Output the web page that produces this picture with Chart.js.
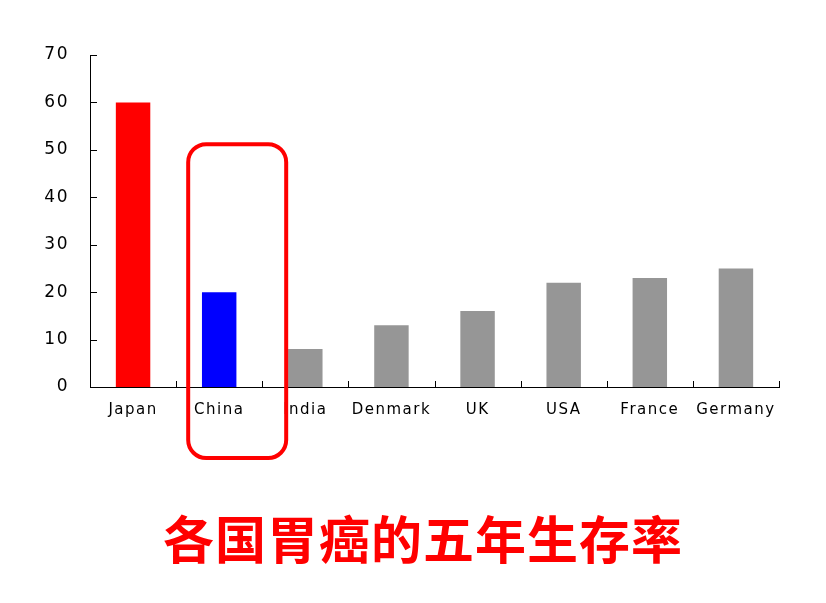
<!DOCTYPE html>
<html>
<head>
<meta charset="utf-8">
<script src="https://cdn.jsdelivr.net/npm/chart.js@4"></script>
<style>
  html, body { margin: 0; padding: 0; background: #fff; }
  #wrap { width: 826px; height: 603px; }
</style>
</head>
<body>
<div id="wrap"><canvas id="chart"></canvas></div>
<script>
// Data
const countries = ["Japan", "China", "India", "Denmark", "UK", "USA", "France", "Germany"];
const survival = [60, 20, 8, 13, 16, 22, 23, 25];
const barColors = ["#ff0000", "#0000ff", "#969696", "#969696", "#969696", "#969696", "#969696", "#969696"];
const yTicks = [0, 10, 20, 30, 40, 50, 60, 70];
const chartTitle = "各国胃癌的五年生存率";

// wider letters like the slide
function setSpacing(chart) {
    chart.ctx.letterSpacing = "1.5px";
}

// inside tick marks, the red box round China and the big title
const extras = {
    id: "extras",
    beforeLayout: setSpacing,
    beforeDraw: setSpacing,
    afterDraw(chart) {
        const ctx = chart.ctx;
        const x = chart.scales.x;
        const y = chart.scales.y;
        const area = chart.chartArea;

        ctx.save();
        ctx.strokeStyle = "#000";
        ctx.lineWidth = 1;
        ctx.beginPath();
        yTicks.forEach(v => {
            const py = Math.round(y.getPixelForValue(v)) + 0.5;
            ctx.moveTo(area.left, py);
            ctx.lineTo(area.left + 7, py);
        });
        const step = (area.right - area.left) / countries.length;
        for (let i = 1; i <= countries.length; i++) {
            const px = Math.round(area.left + step * i) + 0.5;
            ctx.moveTo(px, area.bottom);
            ctx.lineTo(px, area.bottom - 6);
        }
        ctx.stroke();

        // red rounded box
        const cx = x.getPixelForValue(1);
        const top = y.getPixelForValue(51.2);
        ctx.strokeStyle = "#ff0000";
        ctx.lineWidth = 4;
        ctx.beginPath();
        ctx.roundRect(cx - 31, top, 98, area.bottom + 71 - top, 18);
        ctx.stroke();

        // title
        ctx.letterSpacing = "1px";
        ctx.fillStyle = "#ff0000";
        ctx.font = "bold 51px 'Noto Sans CJK SC'";
        ctx.textAlign = "center";
        ctx.textBaseline = "middle";
        ctx.fillText(chartTitle, 423, 540);
        ctx.restore();
    }
};

const ctx = document.getElementById("chart").getContext("2d");
const myChart = new Chart(ctx, {
    type: "bar",
    data: {
        labels: countries,
        datasets: [{
            data: survival,
            backgroundColor: barColors,
            barPercentage: 0.4,
            categoryPercentage: 1
        }]
    },
    options: {
        responsive: true,
        maintainAspectRatio: false,
        animation: false,
        layout: { padding: { top: 55, right: 47, left: 0, bottom: 0 } },
        plugins: {
            legend: { display: false },
            tooltip: { enabled: false }
        },
        scales: {
            x: {
                grid: { display: false },
                border: { display: true, color: "#000", width: 1 },
                ticks: {
                    color: "#000",
                    padding: 6,
                    maxRotation: 0,
                    font: { family: "'DejaVu Sans'", size: 15 }
                },
                afterFit: scale => { scale.height = 216; }
            },
            y: {
                min: 0,
                max: 70,
                grid: { display: false },
                border: { display: true, color: "#000", width: 1 },
                ticks: {
                    stepSize: 10,
                    color: "#000",
                    padding: 13,
                    font: { family: "'DejaVu Sans'", size: 17 }
                },
                afterFit: scale => { scale.width = 90; }
            }
        }
    },
    plugins: [extras]
});
</script>
</body>
</html>
